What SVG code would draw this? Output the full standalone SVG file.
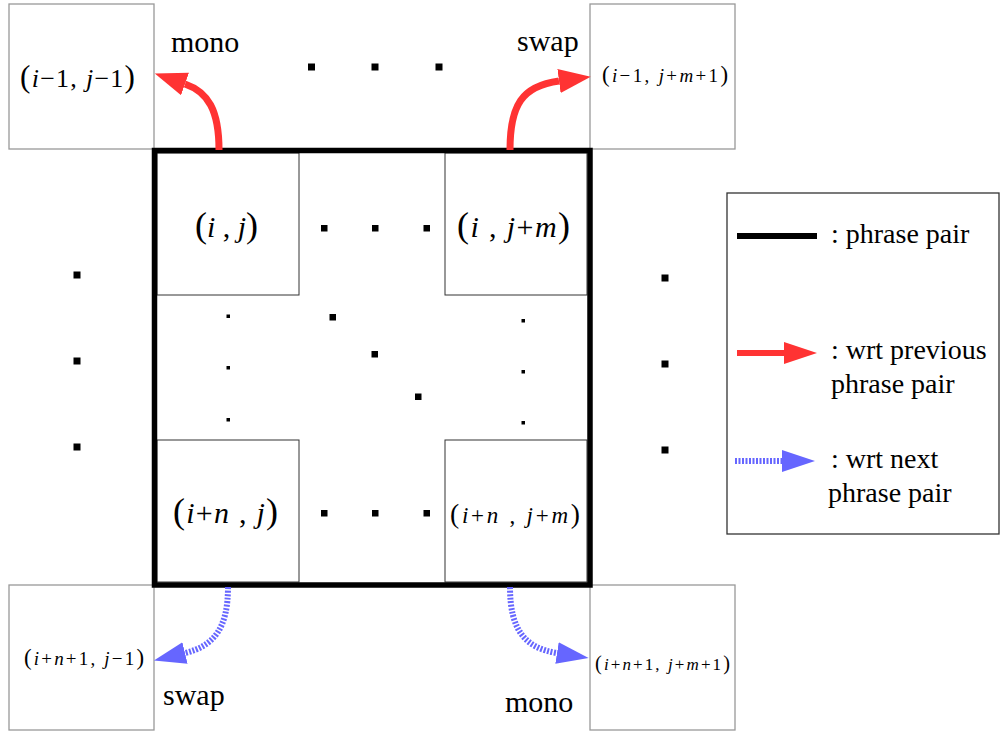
<svg xmlns="http://www.w3.org/2000/svg" width="1002" height="731" viewBox="0 0 1002 731">
<style>
  text { font-family: 'Liberation Serif', 'DejaVu Serif', serif; fill: #000; }
  .it { font-style: italic; }
  .p { font-size: 1.2em; }
  .lbl { font-size: 30px; }
  .leg { font-size: 28px; }
  .outer { fill: #fff; stroke: #999; stroke-width: 1.3; }
  .inner { fill: #fff; stroke: #333; stroke-width: 1; }
  .red { fill: none; stroke: #ff3333; stroke-width: 7; }
  .blue { fill: none; stroke: #6666ff; stroke-width: 6; stroke-dasharray: 2 1.5; }
  .dot { fill: #000; }
</style>
<defs>
  <marker id="redHead" markerUnits="userSpaceOnUse" markerWidth="40" markerHeight="30" refX="0" refY="12" orient="auto" viewBox="0 0 40 24">
    <path d="M0,0 L32,12 L0,24 z" fill="#ff3333"/>
  </marker>
  <marker id="blueHead" markerUnits="userSpaceOnUse" markerWidth="40" markerHeight="30" refX="0" refY="12" orient="auto" viewBox="0 0 40 24">
    <path d="M0,1 L32,12 L0,23 z" fill="#6666ff"/>
  </marker>
</defs>
<rect width="1002" height="731" fill="#fff"/>

<g id="node-tl">
  <rect class="outer" x="9" y="4" width="145" height="145"/>
  <text x="77.5" y="87" font-size="26" text-anchor="middle" textLength="115" lengthAdjust="spacing"><tspan class="p">(</tspan><tspan class="it">i</tspan>−1, <tspan class="it">j</tspan>−1<tspan class="p">)</tspan></text>
</g>
<g id="node-tr">
  <rect class="outer" x="590" y="4" width="145" height="145"/>
  <text x="665" y="82" font-size="19" text-anchor="middle" textLength="126" lengthAdjust="spacing"><tspan class="p">(</tspan><tspan class="it">i</tspan>−1, <tspan class="it">j</tspan>+<tspan class="it">m</tspan>+1<tspan class="p">)</tspan></text>
</g>
<g id="node-bl">
  <rect class="outer" x="9" y="585" width="145" height="145"/>
  <text x="84" y="665" font-size="19" text-anchor="middle" textLength="120" lengthAdjust="spacing"><tspan class="p">(</tspan><tspan class="it">i</tspan>+<tspan class="it">n</tspan>+1, <tspan class="it">j</tspan>−1<tspan class="p">)</tspan></text>
</g>
<g id="node-br">
  <rect class="outer" x="590" y="585" width="145" height="145"/>
  <text x="662.5" y="670" font-size="17" text-anchor="middle" textLength="135" lengthAdjust="spacing"><tspan class="p">(</tspan><tspan class="it">i</tspan>+<tspan class="it">n</tspan>+1, <tspan class="it">j</tspan>+<tspan class="it">m</tspan>+1<tspan class="p">)</tspan></text>
</g>

<g id="node-ij">
  <rect class="inner" x="157" y="153" width="142" height="142"/>
  <text x="226.5" y="237" font-size="30" text-anchor="middle" textLength="63" lengthAdjust="spacing"><tspan class="p">(</tspan><tspan class="it">i</tspan> , <tspan class="it">j</tspan><tspan class="p">)</tspan></text>
</g>
<g id="node-ijm">
  <rect class="inner" x="445" y="153" width="142" height="142"/>
  <text x="513.5" y="237" font-size="30" text-anchor="middle" textLength="113" lengthAdjust="spacing"><tspan class="p">(</tspan><tspan class="it">i</tspan> , <tspan class="it">j</tspan>+<tspan class="it">m</tspan><tspan class="p">)</tspan></text>
</g>
<g id="node-inj">
  <rect class="inner" x="157" y="440" width="142" height="142"/>
  <text x="225.5" y="523" font-size="30" text-anchor="middle" textLength="105" lengthAdjust="spacing"><tspan class="p">(</tspan><tspan class="it">i</tspan>+<tspan class="it">n</tspan> , <tspan class="it">j</tspan><tspan class="p">)</tspan></text>
</g>
<g id="node-injm">
  <rect class="inner" x="445" y="440" width="142" height="142"/>
  <text x="515" y="523" font-size="23" text-anchor="middle" textLength="130" lengthAdjust="spacing"><tspan class="p">(</tspan><tspan class="it">i</tspan>+<tspan class="it">n</tspan> , <tspan class="it">j</tspan>+<tspan class="it">m</tspan><tspan class="p">)</tspan></text>
</g>

<g id="phrase-pair">
  <rect x="154.5" y="150.5" width="435.5" height="434.5" fill="none" stroke="#000" stroke-width="5.5"/>
</g>

<g id="dots">
  <rect class="dot" x="308" y="63.5" width="7" height="7"/>
  <rect class="dot" x="371.5" y="63.5" width="7" height="7"/>
  <rect class="dot" x="435.5" y="63.5" width="7" height="7"/>
  <rect class="dot" x="73.5" y="271.5" width="7" height="7"/>
  <rect class="dot" x="73.5" y="357.5" width="7" height="7"/>
  <rect class="dot" x="73.5" y="443.5" width="7" height="7"/>
  <rect class="dot" x="661.5" y="274.5" width="7" height="7"/>
  <rect class="dot" x="661.5" y="360.5" width="7" height="7"/>
  <rect class="dot" x="661.5" y="446.5" width="7" height="7"/>
  <rect class="dot" x="321" y="225" width="6.5" height="6.5"/>
  <rect class="dot" x="372" y="225" width="6.5" height="6.5"/>
  <rect class="dot" x="423.5" y="225" width="6.5" height="6.5"/>
  <rect class="dot" x="321" y="510" width="6.5" height="6.5"/>
  <rect class="dot" x="372" y="510" width="6.5" height="6.5"/>
  <rect class="dot" x="423.5" y="510" width="6.5" height="6.5"/>
  <rect class="dot" x="226.5" y="314.5" width="3.5" height="3.5"/>
  <rect class="dot" x="226.5" y="366" width="3.5" height="3.5"/>
  <rect class="dot" x="226.5" y="418" width="3.5" height="3.5"/>
  <rect class="dot" x="521.5" y="319" width="3.5" height="3.5"/>
  <rect class="dot" x="521.5" y="370" width="3.5" height="3.5"/>
  <rect class="dot" x="521.5" y="421" width="3.5" height="3.5"/>
  <rect class="dot" x="329.5" y="314" width="6.5" height="6.5"/>
  <rect class="dot" x="371.5" y="351" width="6.5" height="6.5"/>
  <rect class="dot" x="415" y="393.5" width="6.5" height="6.5"/>
</g>

<g id="connectors">
  <path class="red" d="M219,150 C219,110 208,92 185,84" marker-end="url(#redHead)"/>
  <path class="red" d="M510,150 C510,105 522,86 559,81" marker-end="url(#redHead)"/>
  <path class="blue" d="M228,587 C228,628 214,646 185,653" marker-end="url(#blueHead)"/>
  <path class="blue" d="M510,587 C510,630 525,648 557,653" marker-end="url(#blueHead)"/>
</g>

<g id="labels">
  <text class="lbl" x="171" y="52">mono</text>
  <text class="lbl" x="517" y="51">swap</text>
  <text class="lbl" x="163" y="705">swap</text>
  <text class="lbl" x="505" y="712">mono</text>
</g>

<g id="legend">
  <rect x="727" y="193" width="272" height="341" fill="#fff" stroke="#333" stroke-width="1.3"/>
  <line x1="737" y1="236" x2="817" y2="236" stroke="#000" stroke-width="6"/>
  <text class="leg" x="831" y="243">: phrase pair</text>
  <line x1="737" y1="353" x2="785" y2="353" stroke="#ff3333" stroke-width="6"/>
  <path d="M784,342 L817,353 L784,364 z" fill="#ff3333"/>
  <text class="leg" x="831" y="359">: wrt previous</text>
  <text class="leg" x="831" y="393">phrase pair</text>
  <line x1="735" y1="461" x2="784" y2="461" stroke="#6666ff" stroke-width="6" stroke-dasharray="2 1.5"/>
  <path d="M782,450 L815,461 L782,472 z" fill="#6666ff"/>
  <text class="leg" x="831" y="468">: wrt next</text>
  <text class="leg" x="828" y="502">phrase pair</text>
</g>
</svg>
